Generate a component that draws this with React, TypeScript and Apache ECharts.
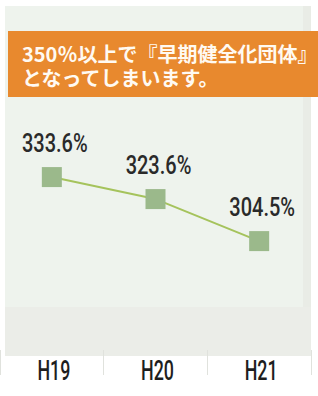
import React, { useEffect, useRef } from "react";
import * as echarts from "echarts";

const categories = ["H19", "H20", "H21"];
const ratioValues = [333.6, 323.6, 304.5];
const bannerLines = ["350％以上で『早期健全化団体』", "となってしまいます。"];

const Y_MIN = 255;
const Y_MAX = 405;

export default function App() {
  const ref = useRef<HTMLDivElement>(null);
  useEffect(() => {
    if (!ref.current) return;
    const chart = echarts.init(ref.current, undefined, { renderer: "svg" });
    chart.setOption({
      animation: false,
      backgroundColor: "#ffffff",
      graphic: [
        { type: "rect", z: -10, shape: { x: 5, y: 6, width: 306, height: 350 }, style: { fill: "#eef3ed" } },
        { type: "rect", z: -9, shape: { x: 303, y: 6, width: 8, height: 350 }, style: { fill: "#e9ece6" } },
        { type: "rect", z: -8, shape: { x: 5, y: 307, width: 306, height: 49 }, style: { fill: "#ebede8" } },
        { type: "rect", z: 10, shape: { x: 8, y: 31, width: 310, height: 66 }, style: { fill: "#e8892e" } },
        {
          type: "text", z: 11, x: 22, y: 65,
          style: {
            text: bannerLines.join("\n"),
            fill: "#fffaf2",
            lineHeight: 24,
            textVerticalAlign: "middle",
            font: "bold 20px 'Noto Sans CJK JP', sans-serif",
          },
        },
      ],
      grid: { left: -10, right: 7, top: 20, bottom: 46, containLabel: false },
      xAxis: {
        type: "category",
        data: categories,
        boundaryGap: true,
        axisLine: { show: false },
        axisTick: { show: true, length: 25, lineStyle: { color: "#e0e2dd", width: 1 } },
        axisLabel: { show: false },
      },
      yAxis: {
        type: "value",
        min: Y_MIN,
        max: Y_MAX,
        show: false,
        splitLine: { show: false },
      },
      series: [
        {
          type: "line",
          data: ratioValues,
          symbol: "rect",
          symbolSize: 20,
          lineStyle: { color: "#a5c35c", width: 2 },
          itemStyle: { color: "#9bb98b" },
          label: { show: false },
          z: 3,
        },
        {
          type: "custom",
          name: "valueLabels",
          data: ratioValues.map((v, i) => [i, v]),
          clip: false,
          z: 4,
          renderItem: (params: any, api: any) => {
            const pt = api.coord([api.value(0), api.value(1)]);
            const v = api.value(1) as number;
            return {
              type: "text",
              x: pt[0] + 3,
              y: pt[1] - 33,
              scaleX: 0.8,
              style: {
                text: `${v.toFixed(1)}%`,
                fill: "#2a2a2a",
                textAlign: "center",
                textVerticalAlign: "middle",
                font: "500 25px Roboto, sans-serif",
              },
            };
          },
        },
        {
          type: "custom",
          name: "categoryLabels",
          data: categories.map((c, i) => [i, Y_MIN]),
          clip: false,
          z: 4,
          renderItem: (params: any, api: any) => {
            const pt = api.coord([api.value(0), Y_MIN]);
            const idx = api.value(0) as number;
            return {
              type: "text",
              x: pt[0] + 2,
              y: pt[1] + 21,
              scaleX: 0.66,
              style: {
                text: categories[idx],
                fill: "#1e1e1e",
                textAlign: "center",
                textVerticalAlign: "middle",
                font: "500 27px Roboto, sans-serif",
              },
            };
          },
        },
      ],
    });
    return () => chart.dispose();
  }, []);
  return <div ref={ref} style={{ width: 318, height: 396, position: "absolute", left: 0, top: 0 }} />;
}
